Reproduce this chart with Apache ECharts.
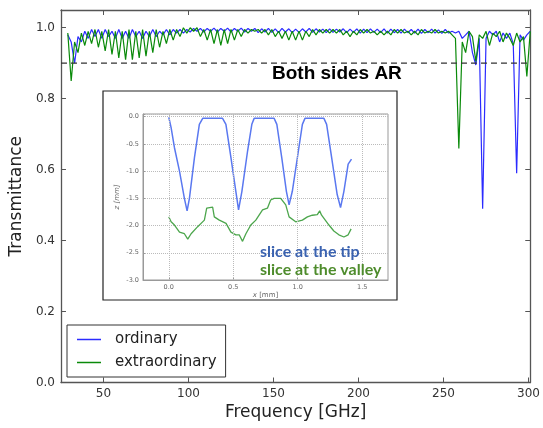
<!DOCTYPE html>
<html>
<head>
<meta charset="utf-8">
<script src="https://cdn.jsdelivr.net/npm/echarts@6/dist/echarts.min.js"></script>
<style>
  html, body { margin: 0; padding: 0; background: #fff; }
  #chart { width: 543px; height: 428px; }
</style>
</head>
<body>
<div id="chart"></div>
<script>
// main plot: transmittance vs frequency
var freq = [
  29, 31, 33, 35, 37, 39, 41, 43, 45, 47,
  49, 51, 53, 55, 57, 59, 61, 63, 65, 67,
  69, 71, 73, 75, 77, 79, 81, 83, 85, 87,
  89, 91, 93, 95, 97, 99, 101, 103, 105, 107,
  109, 111, 113, 115, 117, 119, 121, 123, 125, 127,
  129, 131, 133, 135, 137, 139, 141, 143, 145, 147,
  149, 151, 153, 155, 157, 159, 161, 163, 165, 167,
  169, 171, 173, 175, 177, 179, 181, 183, 185, 187,
  189, 191, 193, 195, 197, 199, 201, 203, 205, 207,
  209, 211, 213, 215, 217, 219, 221, 223, 225, 227,
  229, 231, 233, 235, 237, 239, 241, 243, 245, 247,
  249, 251, 253, 255, 257, 259, 261, 263, 265, 267,
  269, 271, 273, 275, 277, 279, 281, 283, 285, 287,
  289, 291, 293, 295, 297, 299, 301
];
var ordinary = [
  0.98, 0.96, 0.90, 0.975, 0.96, 0.99, 0.97, 0.995, 0.975, 0.995,
  0.97, 0.995, 0.975, 0.99, 0.97, 0.995, 0.97, 0.99, 0.97, 0.995,
  0.975, 0.99, 0.97, 0.99, 0.975, 0.995, 0.975, 0.99, 0.98, 0.995,
  0.98, 0.995, 0.985, 0.995, 0.985, 0.995, 0.988, 0.998, 0.99, 0.998,
  0.988, 0.998, 0.99, 0.999, 0.988, 0.998, 0.99, 0.999, 0.988, 0.998,
  0.99, 0.999, 0.988, 0.998, 0.99, 0.998, 0.986, 0.997, 0.988, 0.998,
  0.987, 0.997, 0.986, 0.998, 0.988, 0.997, 0.986, 0.996, 0.987, 0.997,
  0.988, 0.998, 0.987, 0.997, 0.988, 0.996, 0.986, 0.997, 0.987, 0.996,
  0.988, 0.997, 0.986, 0.996, 0.987, 0.997, 0.985, 0.996, 0.986, 0.997,
  0.987, 0.996, 0.986, 0.997, 0.985, 0.996, 0.986, 0.995, 0.985, 0.996,
  0.986, 0.995, 0.985, 0.996, 0.984, 0.995, 0.986, 0.996, 0.985, 0.994,
  0.984, 0.995, 0.985, 0.99, 0.985, 0.99, 0.97, 0.98, 0.99, 0.93,
  0.895, 0.97, 0.49, 0.97, 0.99, 0.98, 0.99, 0.96, 0.985, 0.97,
  0.985, 0.955, 0.59, 0.98, 0.965, 0.98, 0.99
];
var extraordinary = [
  0.985, 0.85, 0.96, 0.93, 0.985, 0.95, 0.99, 0.955, 0.995, 0.945,
  0.99, 0.935, 0.995, 0.925, 0.99, 0.915, 0.99, 0.91, 0.995, 0.91,
  0.99, 0.915, 0.995, 0.92, 0.99, 0.93, 0.995, 0.945, 0.99, 0.955,
  0.995, 0.965, 0.995, 0.975, 1.0, 0.985, 1.0, 0.99, 1.0, 0.975,
  0.995, 0.965, 0.995, 0.955, 0.995, 0.95, 0.995, 0.955, 0.995, 0.965,
  0.995, 0.975, 0.995, 0.985, 0.995, 0.99, 0.995, 0.985, 0.995, 0.98,
  0.995, 0.975, 0.99, 0.97, 0.99, 0.965, 0.99, 0.965, 0.99, 0.965,
  0.99, 0.975, 0.995, 0.98, 0.995, 0.985, 0.995, 0.985, 0.995, 0.985,
  0.995, 0.98, 0.99, 0.975, 0.99, 0.98, 0.995, 0.985, 0.995, 0.985,
  0.99, 0.98, 0.99, 0.98, 0.99, 0.98, 0.995, 0.985, 0.995, 0.985,
  0.99, 0.98, 0.99, 0.98, 0.995, 0.985, 0.99, 0.985, 0.995, 0.985,
  0.99, 0.985, 0.99, 0.98, 0.97, 0.66, 0.96, 0.93, 0.99, 0.975,
  0.905, 0.98, 0.97, 0.99, 0.95, 0.985, 0.975, 0.99, 0.96, 0.985,
  0.97, 0.95, 0.985, 0.96, 0.975, 0.863, 0.99
];
var arLevel = 0.9;
var freqTicks = [50, 100, 150, 200, 250, 300];

// inset: surface profile slices
var tipX = [0.0, 0.018, 0.044, 0.083, 0.121, 0.142, 0.16, 0.199, 0.237, 0.263,
  0.417, 0.443, 0.482, 0.52, 0.541, 0.567, 0.611, 0.644, 0.662,
  0.817, 0.838, 0.876, 0.912, 0.933, 0.958, 1.005, 1.036, 1.056,
  1.203, 1.224, 1.263, 1.306, 1.332, 1.358, 1.391, 1.417];
var tipZ = [-0.01, -0.2, -0.57, -1.0, -1.5, -1.73, -1.5, -0.75, -0.14, -0.03,
  -0.03, -0.14, -0.75, -1.37, -1.71, -1.37, -0.63, -0.14, -0.03,
  -0.03, -0.14, -0.75, -1.37, -1.62, -1.37, -0.63, -0.14, -0.03,
  -0.03, -0.14, -0.75, -1.43, -1.67, -1.37, -0.87, -0.78];
var valleyX = [0.0, 0.018, 0.044, 0.083, 0.121, 0.147, 0.173, 0.224, 0.276, 0.294,
  0.302, 0.34, 0.353, 0.392, 0.444, 0.482, 0.52, 0.546, 0.572, 0.598,
  0.636, 0.675, 0.727, 0.765, 0.79, 0.817, 0.868, 0.907, 0.933, 0.984,
  1.036, 1.075, 1.113, 1.152, 1.17, 1.185, 1.242, 1.28, 1.319, 1.358,
  1.391, 1.414];
var valleyZ = [-1.84, -1.93, -1.99, -2.12, -2.15, -2.25, -2.15, -2.02, -1.90, -1.68,
  -1.65, -1.66, -1.84, -1.90, -1.96, -2.12, -2.17, -2.17, -2.29, -2.15,
  -1.99, -1.90, -1.71, -1.68, -1.53, -1.50, -1.50, -1.62, -1.84, -1.93,
  -1.90, -1.84, -1.81, -1.80, -1.73, -1.81, -1.99, -2.10, -2.17, -2.21,
  -2.17, -2.06];
var insetXTicks = [0, 0.5, 1.0, 1.5];

function pairs(xs, ys) {
  return xs.map(function (x, i) { return [x, ys[i]]; });
}

var axisColor = '#555';
var font = 'DejaVu Sans';

var myChart = echarts.init(document.getElementById('chart'));
var option = {
  animation: false,
  textStyle: { fontFamily: font },
  grid: [
    { left: 59, top: 10, right: 10, bottom: 45.5 },
    { left: 143, top: 114, right: 155, bottom: 148, show: true,
      borderColor: '#999', borderWidth: 1 }
  ],
  legend: {
    data: ['ordinary', 'extraordinary'],
    orient: 'vertical',
    left: 67,
    top: 325,
    icon: 'rect',
    itemWidth: 24,
    itemHeight: 1.5,
    itemGap: 8,
    padding: [7, 9, 7, 10],
    borderColor: '#333',
    borderWidth: 1,
    textStyle: { fontSize: 15, color: '#222', padding: [0, 0, 0, 9] }
  },
  xAxis: [
    {
      gridIndex: 0, type: 'value', min: 25, max: 301, position: 'bottom',
      name: 'Frequency [GHz]', nameLocation: 'middle', nameGap: 19,
      nameTextStyle: { fontSize: 17, color: '#222' },
      axisLine: { onZero: false, lineStyle: { color: axisColor, width: 1.3 } },
      axisTick: { inside: true, length: 5, customValues: freqTicks,
        lineStyle: { color: axisColor } },
      axisLabel: { customValues: freqTicks, fontSize: 12, color: '#333', margin: 5 },
      splitLine: { show: false }
    },
    {
      gridIndex: 0, type: 'value', min: 25, max: 301, position: 'top',
      axisLine: { onZero: false, lineStyle: { color: axisColor, width: 1.3 } },
      axisTick: { inside: true, length: 5, customValues: freqTicks,
        lineStyle: { color: axisColor } },
      axisLabel: { show: false },
      splitLine: { show: false }
    },
    {
      gridIndex: 1, type: 'value', min: -0.2, max: 1.7,
      name: '{i|x} [mm]', nameLocation: 'middle', nameGap: 11,
      nameTextStyle: { fontSize: 7, color: '#666',
        rich: { i: { fontSize: 7, color: '#666', fontStyle: 'italic' } } },
      axisLine: { onZero: false, lineStyle: { color: '#999', width: 1 } },
      axisTick: { inside: true, length: 2, customValues: insetXTicks,
        lineStyle: { color: '#999' } },
      axisLabel: { customValues: insetXTicks, fontSize: 6.5, color: '#666', margin: 4,
        formatter: function (v) { return v.toFixed(1); } },
      splitLine: { show: false }
    }
  ],
  yAxis: [
    {
      gridIndex: 0, type: 'value', min: 0, max: 1.05, interval: 0.2,
      name: 'Transmittance', nameLocation: 'middle', nameGap: 32,
      nameTextStyle: { fontSize: 17, color: '#222' },
      axisLine: { onZero: false, lineStyle: { color: axisColor, width: 1.3 } },
      axisTick: { inside: true, length: 5, lineStyle: { color: axisColor } },
      axisLabel: { fontSize: 12, color: '#333', margin: 6,
        formatter: function (v) {
          return Math.abs(v * 5 - Math.round(v * 5)) < 1e-6 ? v.toFixed(1) : '';
        } },
      splitLine: { show: false }
    },
    {
      gridIndex: 0, type: 'value', min: 0, max: 1.05, interval: 0.2, position: 'right',
      axisLine: { onZero: false, lineStyle: { color: axisColor, width: 1.3 } },
      axisTick: { inside: true, length: 5, lineStyle: { color: axisColor } },
      axisLabel: { show: false },
      splitLine: { show: false }
    },
    {
      gridIndex: 1, type: 'value', min: -3, max: 0.05, interval: 0.5,
      name: 'z [mm]', nameLocation: 'middle', nameGap: 22,
      nameTextStyle: { fontSize: 7, color: '#666', fontStyle: 'italic' },
      axisLine: { onZero: false, lineStyle: { color: '#999', width: 1 } },
      axisTick: { inside: true, length: 2, lineStyle: { color: '#999' } },
      axisLabel: { fontSize: 6.5, color: '#666', margin: 4,
        formatter: function (v) {
          return Math.abs(v * 2 - Math.round(v * 2)) < 1e-6 ? v.toFixed(1) : '';
        } },
      splitLine: { show: true, lineStyle: { type: 'dotted', color: '#bbb' } }
    }
  ],
  graphic: [
    { type: 'rect', z: -10, shape: { x: 103, y: 91, width: 294, height: 209 },
      style: { fill: '#fff', stroke: '#222', lineWidth: 1.2 } },
    { type: 'text', z: 100, x: 272, y: 73.5,
      style: { text: 'Both sides AR', font: 'bold 19px "Liberation Sans"', fill: '#000',
        align: 'left', verticalAlign: 'middle',
        textAlign: 'left', textVerticalAlign: 'middle' } },
    { type: 'text', z: 100, x: 260, y: 251.5,
      style: { text: 'slice at the tip', font: 'bold 16px Lato', fill: '#3a62b0',
        align: 'left', verticalAlign: 'middle',
        textAlign: 'left', textVerticalAlign: 'middle' } },
    { type: 'text', z: 100, x: 260, y: 270,
      style: { text: 'slice at the valley', font: 'bold 16px Lato', fill: '#4e8c2c',
        align: 'left', verticalAlign: 'middle',
        textAlign: 'left', textVerticalAlign: 'middle' } }
  ],
  series: [
    {
      name: 'ordinary', type: 'line', xAxisIndex: 0, yAxisIndex: 0,
      data: pairs(freq, ordinary), showSymbol: false, symbol: 'none',
      color: '#2b2bff', lineStyle: { width: 1.2 }
    },
    {
      name: 'extraordinary', type: 'line', xAxisIndex: 0, yAxisIndex: 0,
      data: pairs(freq, extraordinary), showSymbol: false, symbol: 'none',
      color: '#0a8a0a', lineStyle: { width: 1.2 }
    },
    {
      name: 'AR', type: 'line', xAxisIndex: 0, yAxisIndex: 0,
      data: [[25, arLevel], [301, arLevel]], symbol: 'none', silent: true,
      color: '#333', lineStyle: { width: 1.2, type: [6, 4] }
    },
    {
      name: 'tip', type: 'line', xAxisIndex: 2, yAxisIndex: 2,
      data: pairs(tipX, tipZ), symbol: 'none',
      color: '#5a78f0', lineStyle: { width: 1.5 },
      markLine: {
        silent: true, symbol: 'none', label: { show: false },
        lineStyle: { type: 'dotted', color: '#bbb', width: 1 },
        data: insetXTicks.map(function (v) { return { xAxis: v }; })
      }
    },
    {
      name: 'valley', type: 'line', xAxisIndex: 2, yAxisIndex: 2,
      data: pairs(valleyX, valleyZ), symbol: 'none',
      color: '#4ca64c', lineStyle: { width: 1.3 }
    }
  ]
};
myChart.setOption(option);
</script>
</body>
</html>
